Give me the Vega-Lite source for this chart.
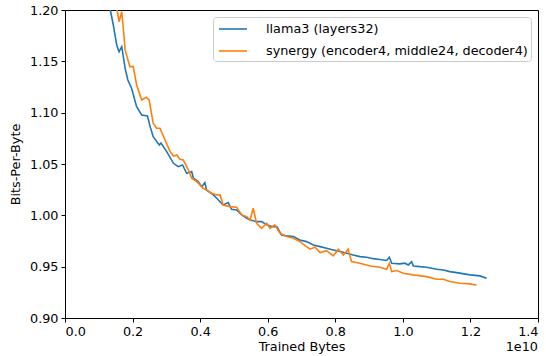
{
  "$schema": "https://vega.github.io/schema/vega-lite/v6.json",
  "width": 473,
  "height": 308,
  "autosize": "none",
  "padding": {"left": 65, "top": 10, "right": 8, "bottom": 38},
  "config": {
    "font": "DejaVu Sans",
    "view": {"stroke": "black", "strokeWidth": 1},
    "axis": {"grid": false, "domain": false, "tickColor": "black", "tickSize": 4, "labelColor": "black", "labelFontSize": 12.8, "titleFontSize": 12.8, "titleFontWeight": "normal", "titleColor": "black", "labelPadding": 3}
  },
  "datasets": {
    "llama": [
      {"x":0.120,"y":1.215},{"x":0.133,"y":1.2017},{"x":0.143,"y":1.1854},{"x":0.153,"y":1.1659},{"x":0.160,"y":1.1594},{"x":0.168,"y":1.1643},{"x":0.178,"y":1.1432},{"x":0.186,"y":1.1318},{"x":0.197,"y":1.1238},{"x":0.212,"y":1.1058},{"x":0.227,"y":1.0978},{"x":0.244,"y":1.0968},{"x":0.252,"y":1.0864},{"x":0.261,"y":1.0766},{"x":0.279,"y":1.0686},{"x":0.284,"y":1.0705},{"x":0.301,"y":1.0620},{"x":0.321,"y":1.0507},{"x":0.335,"y":1.0474},{"x":0.348,"y":1.0491},{"x":0.360,"y":1.0410},{"x":0.375,"y":1.0426},{"x":0.380,"y":1.0361},{"x":0.394,"y":1.0328},{"x":0.405,"y":1.0279},{"x":0.414,"y":1.0318},{"x":0.419,"y":1.0247},{"x":0.439,"y":1.0199},{"x":0.449,"y":1.0166},{"x":0.468,"y":1.0101},{"x":0.483,"y":1.0124},{"x":0.493,"y":1.0059},{"x":0.508,"y":1.0053},{"x":0.523,"y":1.0004},{"x":0.538,"y":0.9972},{"x":0.548,"y":0.9955},{"x":0.567,"y":0.9939},{"x":0.582,"y":0.9939},{"x":0.597,"y":0.9907},{"x":0.612,"y":0.9890},{"x":0.627,"y":0.9890},{"x":0.641,"y":0.9809},{"x":0.656,"y":0.9800},{"x":0.676,"y":0.9793},{"x":0.695,"y":0.9760},{"x":0.715,"y":0.9744},{"x":0.735,"y":0.9712},{"x":0.755,"y":0.9695},{"x":0.774,"y":0.9680},{"x":0.794,"y":0.9663},{"x":0.814,"y":0.9647},{"x":0.834,"y":0.9631},{"x":0.853,"y":0.9614},{"x":0.873,"y":0.9598},{"x":0.893,"y":0.9592},{"x":0.912,"y":0.9578},{"x":0.932,"y":0.9570},{"x":0.952,"y":0.9560},{"x":0.960,"y":0.9592},{"x":0.967,"y":0.9534},{"x":0.991,"y":0.9527},{"x":1.006,"y":0.9534},{"x":1.016,"y":0.9517},{"x":1.026,"y":0.9549},{"x":1.031,"y":0.9507},{"x":1.051,"y":0.9500},{"x":1.070,"y":0.9495},{"x":1.100,"y":0.9475},{"x":1.120,"y":0.9468},{"x":1.139,"y":0.9452},{"x":1.159,"y":0.9442},{"x":1.199,"y":0.9420},{"x":1.228,"y":0.9410},{"x":1.248,"y":0.9387}
    ],
    "synergy": [
      {"x":0.148,"y":1.210},{"x":0.153,"y":1.2019},{"x":0.160,"y":1.1886},{"x":0.168,"y":1.1983},{"x":0.173,"y":1.1805},{"x":0.178,"y":1.1611},{"x":0.192,"y":1.1448},{"x":0.202,"y":1.1448},{"x":0.212,"y":1.1270},{"x":0.227,"y":1.1124},{"x":0.240,"y":1.1150},{"x":0.249,"y":1.1124},{"x":0.261,"y":1.0897},{"x":0.271,"y":1.0848},{"x":0.281,"y":1.0848},{"x":0.296,"y":1.0734},{"x":0.311,"y":1.0620},{"x":0.321,"y":1.0578},{"x":0.331,"y":1.0588},{"x":0.340,"y":1.0546},{"x":0.350,"y":1.0539},{"x":0.365,"y":1.0442},{"x":0.375,"y":1.0361},{"x":0.390,"y":1.0328},{"x":0.409,"y":1.0264},{"x":0.419,"y":1.0247},{"x":0.434,"y":1.0215},{"x":0.449,"y":1.0199},{"x":0.459,"y":1.0199},{"x":0.468,"y":1.0101},{"x":0.488,"y":1.0085},{"x":0.508,"y":1.0079},{"x":0.523,"y":1.0004},{"x":0.538,"y":0.9987},{"x":0.548,"y":0.9955},{"x":0.557,"y":1.0069},{"x":0.567,"y":0.9923},{"x":0.582,"y":0.9874},{"x":0.597,"y":0.9923},{"x":0.607,"y":0.9874},{"x":0.621,"y":0.9907},{"x":0.636,"y":0.9826},{"x":0.656,"y":0.9793},{"x":0.676,"y":0.9777},{"x":0.695,"y":0.9744},{"x":0.725,"y":0.9670},{"x":0.740,"y":0.9689},{"x":0.755,"y":0.9637},{"x":0.774,"y":0.9656},{"x":0.794,"y":0.9605},{"x":0.809,"y":0.9670},{"x":0.824,"y":0.9614},{"x":0.838,"y":0.9670},{"x":0.848,"y":0.9549},{"x":0.873,"y":0.9533},{"x":0.903,"y":0.9507},{"x":0.932,"y":0.9495},{"x":0.952,"y":0.9475},{"x":0.960,"y":0.9533},{"x":0.967,"y":0.9452},{"x":0.982,"y":0.9462},{"x":1.001,"y":0.9436},{"x":1.031,"y":0.9420},{"x":1.070,"y":0.9403},{"x":1.100,"y":0.9378},{"x":1.120,"y":0.9378},{"x":1.139,"y":0.9355},{"x":1.169,"y":0.9339},{"x":1.199,"y":0.9332},{"x":1.218,"y":0.9319}
    ],
    "note": [{"t": "1e10", "x": 1.4, "y": 0.9}]
  },
  "layer": [
    {
      "data": {"name": "llama"},
      "transform": [{"calculate": "'llama3 (layers32)'", "as": "series"}],
      "mark": {"type": "line", "clip": true, "strokeWidth": 1.6},
      "encoding": {
        "x": {"field": "x", "type": "quantitative", "scale": {"domain": [0, 1.4], "nice": false}, "axis": {"values": [0,0.2,0.4,0.6,0.8,1.0,1.2,1.4], "format": ".1f", "title": "Trained Bytes", "titlePadding": 3}},
        "y": {"field": "y", "type": "quantitative", "scale": {"domain": [0.9, 1.2], "nice": false, "zero": false}, "axis": {"values": [0.9,0.95,1.0,1.05,1.1,1.15,1.2], "format": ".2f", "title": "Bits-Per-Byte", "titlePadding": 7}},
        "color": {"field": "series", "type": "nominal", "scale": {"domain": ["llama3 (layers32)", "synergy (encoder4, middle24, decoder4)"], "range": ["#1f77b4", "#ff7f0e"]},
          "legend": {"title": null, "orient": "top-right", "offset": 7, "symbolType": "M-1.75,0L1.75,0", "symbolFillColor": "transparent", "symbolStrokeWidth": 1.6, "symbolSize": 256, "symbolOffset": 8, "labelOffset": 24, "labelFontSize": 12.8, "labelColor": "black", "fillColor": "white", "strokeColor": "#cccccc", "padding": 3, "cornerRadius": 3, "rowPadding": 6, "labelLimit": 400}}
      }
    },
    {
      "data": {"name": "synergy"},
      "transform": [{"calculate": "'synergy (encoder4, middle24, decoder4)'", "as": "series"}],
      "mark": {"type": "line", "clip": true, "strokeWidth": 1.6},
      "encoding": {
        "x": {"field": "x", "type": "quantitative"},
        "y": {"field": "y", "type": "quantitative"},
        "color": {"field": "series", "type": "nominal"}
      }
    },
    {
      "data": {"name": "note"},
      "mark": {"type": "text", "align": "right", "baseline": "middle", "dy": 29, "fontSize": 12.8, "color": "black"},
      "encoding": {
        "x": {"field": "x", "type": "quantitative"},
        "y": {"field": "y", "type": "quantitative"},
        "text": {"field": "t"}
      }
    }
  ]
}
